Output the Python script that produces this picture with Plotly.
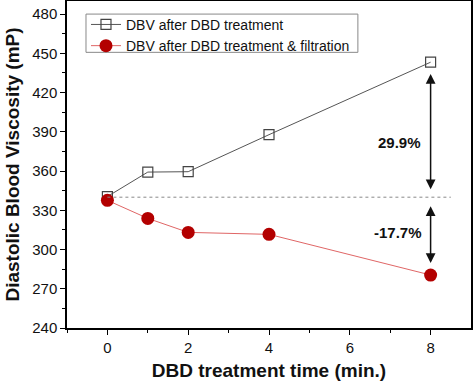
import plotly.graph_objects as go

time_min = [0, 1, 2, 4, 8]
dbv_treatment = [340.5, 359.2, 359.5, 387.8, 443.2]
dbv_filtration = [337.6, 323.8, 313.1, 311.6, 280.5]
baseline = 340.0
pct_up = "29.9%"
pct_down = "-17.7%"

FONT = "Liberation Sans, Arial"

fig = go.Figure()
fig.add_trace(go.Scatter(
    x=time_min, y=dbv_treatment, mode="lines+markers",
    name="DBV after DBD treatment",
    line=dict(color="#555555", width=1),
    marker=dict(symbol="square-open", size=10, color="#444444", line=dict(width=1.2)),
))
fig.add_trace(go.Scatter(
    x=time_min, y=dbv_filtration, mode="lines+markers",
    name="DBV after DBD treatment & filtration",
    line=dict(color="#e06666", width=1),
    marker=dict(symbol="circle", size=13, color="#b30000"),
))
# dotted baseline
fig.add_trace(go.Scatter(
    x=[time_min[0], 8.5], y=[baseline, baseline], mode="lines",
    line=dict(color="#888888", width=1, dash="dot"), showlegend=False, hoverinfo="skip",
))

xa = time_min[-1]
arrows = [
    (dbv_treatment[-1] - 9, baseline + 5),
    (baseline - 7, dbv_filtration[-1] + 8),
]
for y0, y1 in arrows:
    fig.add_annotation(x=xa, y=y0, ax=xa, ay=y1, xref="x", yref="y", axref="x", ayref="y",
                       showarrow=True, arrowhead=2, arrowside="end+start", arrowsize=1.3,
                       arrowwidth=1.5, arrowcolor="#111111", text="")
fig.add_annotation(x=7.23, y=382, text="<b>" + pct_up + "</b>", showarrow=False,
                   font=dict(size=15, color="#111111", family=FONT))
fig.add_annotation(x=7.19, y=313, text="<b>" + pct_down + "</b>", showarrow=False,
                   font=dict(size=15, color="#111111", family=FONT))

# legend frame
fig.add_shape(type="rect", xref="paper", yref="paper",
              x0=0.047, x1=0.720, y0=0.843, y1=0.960,
              line=dict(color="#888888", width=1), fillcolor="rgba(0,0,0,0)", layer="above")

axis_common = dict(showline=True, linecolor="black", linewidth=1.5, mirror=True,
                   ticks="outside", tickcolor="black", ticklen=5, tickwidth=1,
                   showgrid=False, zeroline=False, automargin=False,
                   tickfont=dict(size=15, color="#111111", family=FONT))
fig.update_xaxes(range=[-1, 9], tickvals=[0, 2, 4, 6, 8],
                 minor=dict(tickvals=[-1, 1, 3, 5, 7], ticks="outside", ticklen=3, tickcolor="black"),
                 title=dict(text="<b>DBD treatment time (min.)</b>", standoff=10,
                            font=dict(size=19, color="#111111", family=FONT)),
                 **axis_common)
fig.update_yaxes(range=[240, 490], tickvals=[240, 270, 300, 330, 360, 390, 420, 450, 480],
                 minor=dict(dtick=15, tick0=240, ticks="outside", ticklen=3, tickcolor="black"),
                 title=dict(text="<b>Diastolic Blood Viscosity (mP)</b>", standoff=8,
                            font=dict(size=19, color="#111111", family=FONT)),
                 **axis_common)

fig.update_layout(
    width=473, height=381,
    margin=dict(l=67, r=2, t=1, b=53),
    paper_bgcolor="white", plot_bgcolor="white",
    legend=dict(x=0.047, y=0.976, xanchor="left", yanchor="top",
                borderwidth=0, bgcolor="rgba(0,0,0,0)",
                font=dict(size=14, color="#111111", family=FONT),
                tracegroupgap=0, itemsizing="trace"),
    font=dict(family=FONT),
)
fig.write_html("out.html", config={"displayModeBar": False},
               post_script="document.body.style.margin='0';document.body.style.overflow='hidden';")
